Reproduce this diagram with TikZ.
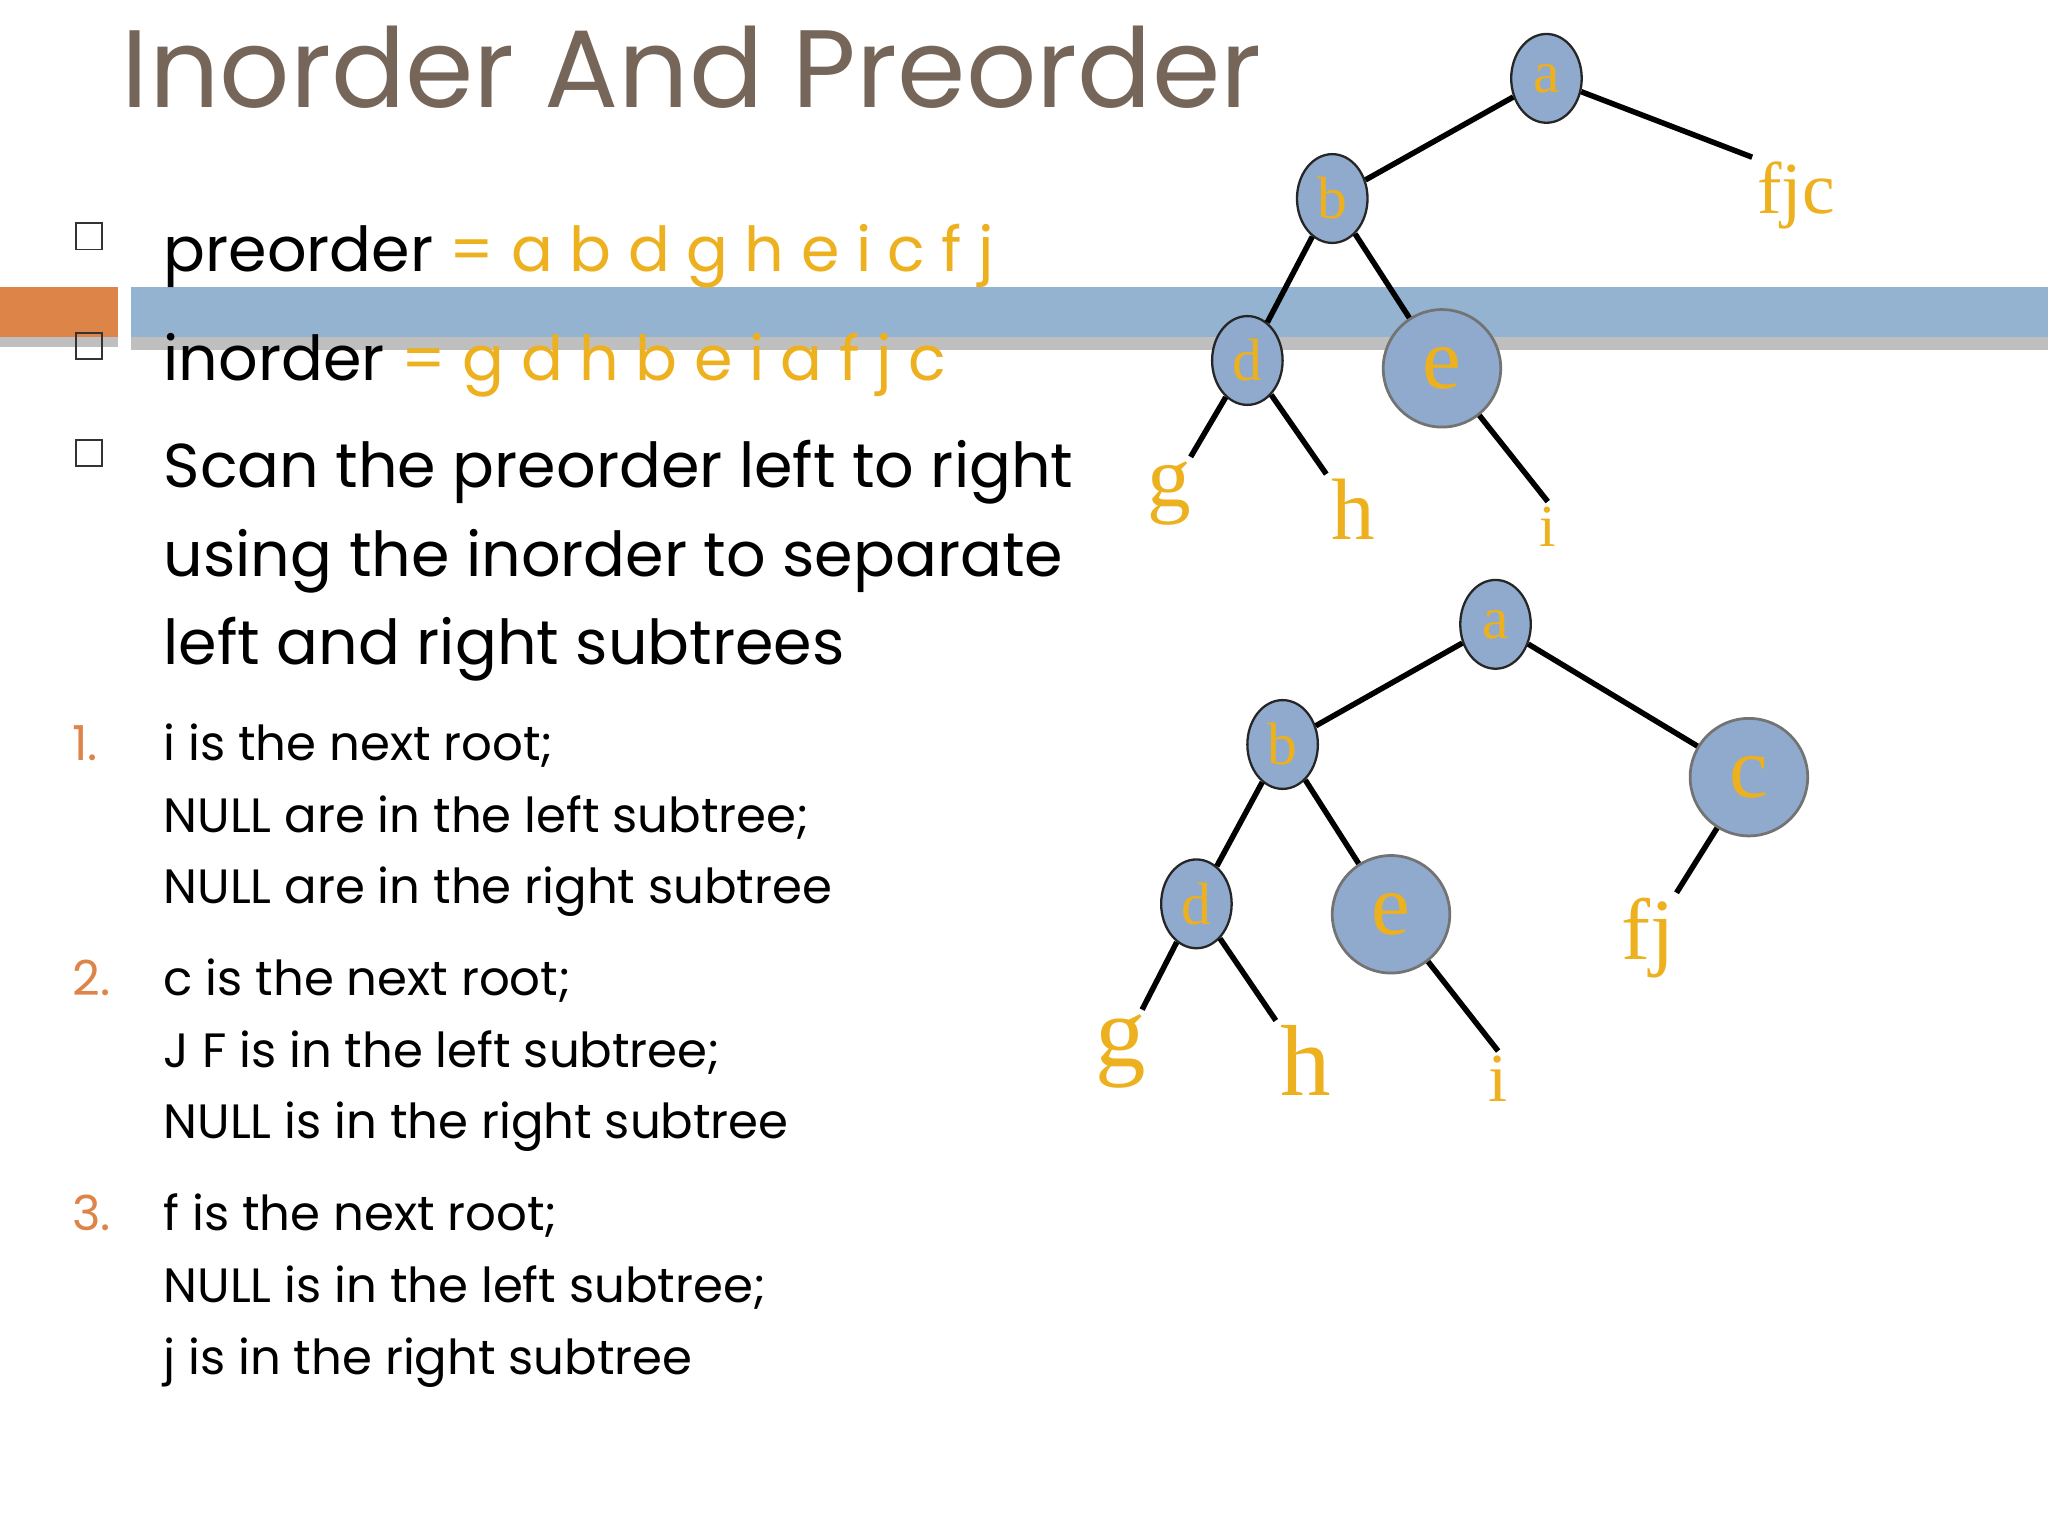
\documentclass[tikz,border=0pt]{standalone}
\usepackage{fontspec}
\usetikzlibrary{shapes.geometric}
\setmainfont{Poppins}
\newfontfamily\tr{Liberation Serif}
\definecolor{ttl}{HTML}{756659}
\definecolor{yel}{HTML}{EDB01E}
\definecolor{org}{HTML}{DD8448}
\definecolor{bar}{HTML}{94B3D1}
\definecolor{nfill}{HTML}{8FAACC}
\begin{document}
\begin{tikzpicture}[x=0.02cm,y=-0.02cm,
 txt/.style={anchor=base west,inner sep=0,font=\fontsize{27}{30}\selectfont},
 sub/.style={anchor=base west,inner sep=0,font=\fontsize{21}{24}\selectfont},
 num/.style={anchor=base west,inner sep=0,text=org,font=\fontsize{21}{24}\selectfont},
 sq/.style={draw=black!80,line width=0.8pt,minimum size=0.4cm,inner sep=0},
 sn/.style={ellipse,draw=black!85,line width=1pt,fill=nfill,minimum width=1.08cm,minimum height=1.36cm,inner sep=0,text=yel,font=\tr\fontsize{26}{26}\selectfont},
 bn/.style={circle,draw=black!55,line width=1.2pt,fill=nfill,minimum size=1.8cm,inner sep=0,text=yel,font=\tr\fontsize{38}{38}\selectfont},
 lb/.style={text=yel,inner sep=2pt,font=\tr\fontsize{#1}{#1}\selectfont},
 ed/.style={line width=2.4pt,black}]
\useasboundingbox (0,0) rectangle (1568,1176);
\fill[white] (0,0) rectangle (1568,1176);
% bars
\fill[black!25] (0,258) rectangle (90,266);
\fill[black!25] (100,258) rectangle (1568,268);
\fill[org] (0,220) rectangle (90,258);
\fill[bar] (100,220) rectangle (1568,258);
% title
\node[anchor=base west,inner sep=0,text=ttl,font=\fontsize{48}{52}\selectfont] (title) at (93,82) {Inorder And Preorder};
% bullets
\node[sq] (s1) at (68,181) {};
\node[sq] (s2) at (68,265) {};
\node[sq] (s3) at (68,347) {};
\node[txt] (p) at (125,208) {preorder \textcolor{yel}{= a b d g h e i c f j}};
\node[txt] (q) at (125,291) {inorder \textcolor{yel}{= g d h b e i a f j c}};
\node[txt] (r1) at (125,373) {Scan the preorder left to right};
\node[txt] (r2) at (125,441) {using the inorder to separate};
\node[txt] (r3) at (125,509) {left and right subtrees};
\node[num] (n1) at (55,582) {1.};
\node[sub] (a1) at (125,582) {i is the next root;};
\node[sub] (a2) at (125,637) {NULL are in the left subtree;};
\node[sub] (a3) at (125,692) {NULL are in the right subtree};
\node[num] (n2) at (55,762) {2.};
\node[sub] (b1) at (125,762) {c is the next root;};
\node[sub] (b2) at (125,817) {J F is in the left subtree;};
\node[sub] (b3) at (125,872) {NULL is in the right subtree};
\node[num] (n3) at (55,942) {3.};
\node[sub] (c1) at (125,942) {f is the next root;};
\node[sub] (c2) at (125,997) {NULL is in the left subtree;};
\node[sub] (c3) at (125,1052) {j is in the right subtree};
% tree 1
\node[sn] (A) at (1184,60) {a};
\node[sn] (B) at (1020,152) {b};
\node[sn] (D) at (955,276) {d};
\node[bn] (E) at (1104,282) {e};
\node[lb=32] (FJC) at (1375,150) {fjc};
\node[lb=38] (G) at (895,378) {g};
\node[lb=38] (H) at (1036,390) {h};
\node[lb=26] (I) at (1185,403) {i};
\draw[ed] (A)--(B); \draw[ed] (A)--(FJC.north west);
\draw[ed] (B)--(D); \draw[ed] (B)--(E);
\draw[ed] (D)--(G); \draw[ed] (D)--(H.north west); \draw[ed] (E)--(I.north);
% tree 2
\node[sn] (A2) at (1145,478) {a};
\node[sn] (B2) at (982,570) {b};
\node[sn] (D2) at (916,692) {d};
\node[bn] (E2) at (1065,700) {e};
\node[bn] (C2) at (1339,595) {c};
\node[lb=38] (FJ) at (1262,718) {fj};
\node[lb=44] (G2) at (858,805) {g};
\node[lb=44] (H2) at (1000,812) {h};
\node[lb=30] (I2) at (1147,826) {i};
\draw[ed] (A2)--(B2); \draw[ed] (A2)--(C2);
\draw[ed] (B2)--(D2); \draw[ed] (B2)--(E2);
\draw[ed] (D2)--(G2); \draw[ed] (D2)--(H2.north west); \draw[ed] (E2)--(I2.north);
\draw[ed] (C2)--(FJ);
\end{tikzpicture}
\end{document}
